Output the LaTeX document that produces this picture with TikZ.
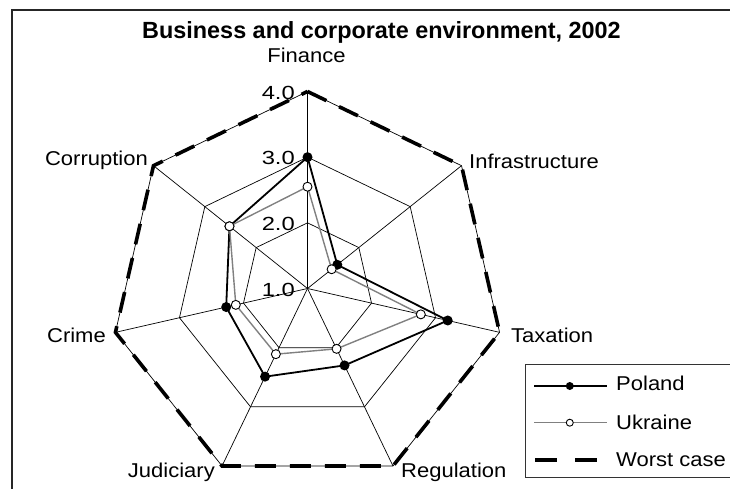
\documentclass[tikz,border=0pt]{standalone}
\usepackage{fontspec}
\setmainfont{Liberation Sans}
\newfontfamily\labelfont[FakeStretch=1.1]{Liberation Sans}
\newfontfamily\tickfont[FakeStretch=1.25]{Liberation Sans}
\usetikzlibrary{calc}

\begin{document}
\begin{tikzpicture}[
  x=1pt, y=-1pt,
  every node/.style={
    inner sep=0pt,
    font=\labelfont\fontsize{20}{24}\selectfont
  },
  grid/.style={black, line width=0.7pt},
  worst/.style={black, line width=3.6pt, dash pattern=on 21pt off 14pt},
  poland/.style={black, line width=1.8pt},
  ukraine/.style={black!50, line width=1.4pt},
  poldot/.style={circle, fill=black, minimum size=10pt},
  ukrdot/.style={circle, draw=black, fill=white, line width=0.9pt, minimum size=9pt},
  tick/.style={anchor=east, font=\tickfont\fontsize{19}{22}\selectfont}
]
\useasboundingbox (0,0) rectangle (730,489);
\draw[line width=1.2pt, black!85] (12,489) -- (12,10) -- (730,10);

\node[font=\fontsize{23.4}{28}\selectfont\bfseries, anchor=base] (title) at (381.5,39)
  {Business and corporate environment, 2002};

\coordinate (c) at (307.5,288.5);
\foreach \n [count=\k from 0] in {fin,inf,tax,reg,jud,cri,cor}
  \path (c) ++({-90+\k*360/7}:197) coordinate (\n);

\foreach \f in {0.3333,0.6667,1}
  \draw[grid] ($(c)!\f!(fin)$) -- ($(c)!\f!(inf)$) -- ($(c)!\f!(tax)$) -- ($(c)!\f!(reg)$)
    -- ($(c)!\f!(jud)$) -- ($(c)!\f!(cri)$) -- ($(c)!\f!(cor)$) -- cycle;
\foreach \n in {fin,inf,tax,reg,jud,cri,cor}
  \draw[grid] (c) -- (\n);

\draw[worst] (fin) -- (inf) -- (tax) -- (reg) -- (jud) -- (cri) -- (cor) -- cycle;

\node[tick] (t1) at ($(c)+(-12.5,1)$) {1.0};
\node[tick] (t2) at ($(c)!0.3333!(fin)+(-12.5,1)$) {2.0};
\node[tick] (t3) at ($(c)!0.6667!(fin)+(-12.5,1)$) {3.0};
\node[tick] (t4) at ($(fin)+(-12.5,1)$) {4.0};

\foreach \n/\v in {fin/3.0,inf/1.58,tax/3.19,reg/2.30,jud/2.49,cri/2.27,cor/2.52}{
  \pgfmathsetmacro\f{(\v-1)/3}
  \coordinate (pl-\n) at ($(c)!\f!(\n)$);
}
\foreach \n/\v in {fin/2.55,inf/1.47,tax/2.77,reg/2.02,jud/2.11,cri/2.12,cor/2.52}{
  \pgfmathsetmacro\f{(\v-1)/3}
  \coordinate (uk-\n) at ($(c)!\f!(\n)$);
}

\draw[poland] (pl-fin) -- (pl-inf) -- (pl-tax) -- (pl-reg) -- (pl-jud) -- (pl-cri) -- (pl-cor) -- cycle;
\foreach \n in {fin,inf,tax,reg,jud,cri,cor}
  \node[poldot] (plm-\n) at (pl-\n) {};
\draw[ukraine] (uk-fin) -- (uk-inf) -- (uk-tax) -- (uk-reg) -- (uk-jud) -- (uk-cri) -- (uk-cor) -- cycle;
\foreach \n in {fin,inf,tax,reg,jud,cri,cor}
  \node[ukrdot] (ukm-\n) at (uk-\n) {};

\node[anchor=base] (finance) at (306.5,63) {Finance};
\node[anchor=base west] (infra) at (469,168) {Infrastructure};
\node[anchor=base west] (taxation) at (511,342) {Taxation};
\node[anchor=base west] (regulation) at (401,477) {Regulation};
\node[anchor=base east] (judiciary) at (215,477) {Judiciary};
\node[anchor=base east] (crime) at (106,342) {Crime};
\node[anchor=base east] (corruption) at (148,166) {Corruption};

\draw[line width=0.9pt, black!80] (730,364) -- (525.7,364) -- (525.7,477.7) -- (730,477.7);
\coordinate (lp1) at (534,386);
\coordinate (lp2) at (607,386);
\draw[black, line width=1.2pt] (lp1) -- (lp2);
\node[poldot, minimum size=8pt] (lpm) at ($(lp1)!0.49!(lp2)$) {};
\node[anchor=base west] (lpol) at (616,390) {Poland};
\coordinate (lu1) at (534,422.7);
\coordinate (lu2) at (607,422.7);
\draw[black!50, line width=1.2pt] (lu1) -- (lu2);
\node[ukrdot, minimum size=7pt] (lum) at ($(lu1)!0.49!(lu2)$) {};
\node[anchor=base west] (lukr) at (616,429) {Ukraine};
\coordinate (lw1) at (535,460);
\coordinate (lw2) at (600,460);
\draw[worst, dash pattern=on 22pt off 18pt] (lw1) -- (lw2);
\node[anchor=base west] (lwor) at (616,466) {Worst case};
\end{tikzpicture}
\end{document}
